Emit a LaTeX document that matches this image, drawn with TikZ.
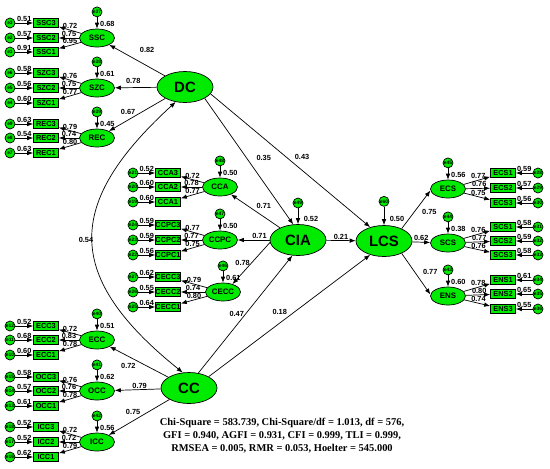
\documentclass[tikz,border=0pt]{standalone}
\usepackage{fontspec}
\setmainfont{Liberation Sans}
\newfontfamily\statsfont{Liberation Serif}
\usepackage{tikz}
\definecolor{amosgreen}{RGB}{0,235,0}
\tikzset{
     arrow/.style={-{Latex[length=3.4pt,width=2.6pt]}},
     corr/.style={{Latex[length=3.4pt,width=2.6pt]}-{Latex[length=3.4pt,width=2.6pt]}},
     latent/.style={ellipse,draw,fill=amosgreen,inner sep=0pt,minimum width=1.12cm,minimum height=0.62cm,font=\fontsize{8.5}{9}\selectfont\bfseries},
     factor/.style={ellipse,draw,fill=amosgreen,inner sep=0pt,minimum width=0.7cm,minimum height=0.36cm,font=\fontsize{4.5}{5}\selectfont\bfseries},
     item/.style={rectangle,draw,fill=amosgreen,inner sep=0pt,minimum width=0.5cm,minimum height=0.17cm,font=\fontsize{4.2}{4.5}\selectfont\bfseries},
     err/.style={circle,draw,fill=amosgreen,inner sep=0pt,minimum size=0.2cm,font=\fontsize{2.8}{3}\selectfont\bfseries},
     lbl/.style={inner sep=0.6pt,font=\fontsize{4.2}{5}\selectfont\bfseries},
     stats/.style={align=center,font=\statsfont\fontsize{5.95}{7.4}\selectfont\bfseries}
     }
\usetikzlibrary{positioning,arrows.meta}
\usetikzlibrary{shapes.geometric}

\begin{document}
\begin{tikzpicture}[x=0.02cm,y=-0.02cm,line width=0.4pt]
\useasboundingbox (0,0) rectangle (550,468);
% Place nodes
\node[latent] (DC) at (185,87) {DC};
\node[latent] (CC) at (189,388) {CC};
\node[latent] (CIA) at (298,240) {CIA};
\node[latent] (LCS) at (384,241) {LCS};
\node[factor] (SSC) at (97,38) {SSC};
\node[factor] (SZC) at (97,88) {SZC};
\node[factor] (REC) at (97,138) {REC};
\node[factor] (ECC) at (97,340) {ECC};
\node[factor] (OCC) at (97,391) {OCC};
\node[factor] (ICC) at (97,442) {ICC};
\node[factor] (CCA) at (220,187) {CCA};
\node[factor] (CCPC) at (220,240) {CCPC};
\node[factor] (CECC) at (223,292) {CECC};
\node[factor] (ECS) at (448,189) {ECS};
\node[factor] (SCS) at (448,243) {SCS};
\node[factor] (ENS) at (448,296) {ENS};
\node[err,above=9pt of CIA] (e49) {e49};
\node[err,above=10.5pt of LCS] (e60) {e60};
\node[stats] (fit) at (282,436) {Chi-Square = 583.739, Chi-Square/df = 1.013, df = 576,\\GFI = 0.940, AGFI = 0.931, CFI = 0.999, TLI = 0.999,\\RMSEA = 0.005, RMR = 0.053, Hoelter = 545.000};
% residuals of the factors
\foreach \lat/\e/\rsq in {SSC/e37/0.68,SZC/e38/0.61,REC/e39/0.45,ECC/e40/0.51,OCC/e41/0.62,ICC/e42/0.56,CCA/e48/0.50,CCPC/e47/0.50,CECC/e46/0.61,ECS/e45/0.56,SCS/e44/0.38,ENS/e43/0.60}{
    \node[err,above=6.5pt of \lat] (\e) {\e};
    \path[arrow] (\e) edge node[lbl,right=1pt,pos=0.55] {\rsq} (\lat);
}
% indicators, left side
\foreach \lat/\n/\e/\y/\lam/\err in {SSC/SSC3/e3/23/0.72/0.51,SSC/SSC2/e2/38/0.75/0.57,SSC/SSC1/e1/52/0.95/0.91,
        SZC/SZC3/e6/73/0.76/0.58,SZC/SZC2/e5/88/0.75/0.56,SZC/SZC1/e4/103/0.77/0.60,
        REC/REC3/e9/124/0.79/0.63,REC/REC2/e8/138/0.74/0.54,REC/REC1/e7/153/0.80/0.63,
        ECC/ECC3/e12/326/0.72/0.52,ECC/ECC2/e11/340/0.83/0.68,ECC/ECC1/e10/355/0.78/0.60,
        OCC/OCC3/e15/377/0.76/0.58,OCC/OCC2/e14/391/0.76/0.57,OCC/OCC1/e13/406/0.78/0.61,
        ICC/ICC3/e18/427/0.72/0.52,ICC/ICC2/e17/442/0.72/0.52,ICC/ICC1/e16/457/0.79/0.62}{
    \node[item] (\n) at (46,\y) {\n};
    \node[err] (\e) at (10,\y) {\e};
    \path[arrow] (\e) edge node[lbl,above] {\err} (\n)
                 (\lat) edge node[lbl,above] {\lam} (\n);
}
% indicators, middle
\foreach \lat/\n/\e/\y/\lam/\err in {CCA/CCA3/e21/173/0.72/0.52,CCA/CCA2/e20/187/0.78/0.60,CCA/CCA1/e19/202/0.77/0.60,
        CCPC/CCPC3/e24/225/0.77/0.59,CCPC/CCPC2/e23/240/0.77/0.59,CCPC/CCPC1/e22/255/0.75/0.56,
        CECC/CECC3/e27/277/0.79/0.62,CECC/CECC2/e26/292/0.74/0.55,CECC/CECC1/e25/307/0.80/0.64}{
    \node[item] (\n) at (168,\y) {\n};
    \node[err] (\e) at (133,\y) {\e};
    \path[arrow] (\e) edge node[lbl,above] {\err} (\n)
                 (\lat) edge node[lbl,above] {\lam} (\n);
}
% indicators, right side
\foreach \lat/\n/\e/\y/\lam/\err in {ECS/ECS1/e28/173/0.77/0.59,ECS/ECS2/e29/188/0.76/0.57,ECS/ECS3/e30/203/0.75/0.56,
        SCS/SCS1/e31/227/0.76/0.58,SCS/SCS2/e32/241/0.77/0.59,SCS/SCS3/e33/255/0.76/0.58,
        ENS/ENS1/e34/280/0.78/0.61,ENS/ENS2/e35/294/0.80/0.65,ENS/ENS3/e36/309/0.74/0.55}{
    \node[item] (\n) at (503,\y) {\n};
    \node[err] (\e) at (538,\y) {\e};
    \path[arrow] (\e) edge node[lbl,above] {\err} (\n)
                 (\lat) edge node[lbl,above,pos=0.55] {\lam} (\n);
}
% Draw edges
\path[arrow] (e49) edge node[lbl,right=2.5pt,pos=0.7] {0.52} (CIA)
             (e60) edge node[lbl,right=2.5pt,pos=0.65] {0.50} (LCS);
\path[arrow] (DC) edge node[lbl,pos=0.32,above=7pt] {0.82} (SSC)
             (DC) edge node[lbl,pos=0.56,above=1.5pt] {0.78} (SZC)
             (DC) edge node[lbl,pos=0.66,above=2pt] {0.67} (REC)
             (DC.330) edge node[lbl,pos=0.47,right=5pt] {0.35} (CIA.107)
             (DC.345) edge node[lbl,pos=0.47,right=4.5pt] {0.43} (LCS.135)
             (CIA) edge node[lbl,pos=0.33,above=4pt] {0.71} (CCA)
             (CIA) edge node[lbl,pos=0.32,above] {0.71} (CCPC)
             (CIA.185) edge node[lbl,pos=0.5,left=0pt] {0.78} (CECC.40)
             (CIA) edge node[lbl,above] {0.21} (LCS)
             (CC.58) edge node[lbl,pos=0.5,left=0pt] {0.47} (CIA.250)
             (CC.30) edge node[lbl,pos=0.44,above=4pt] {0.18} (LCS.225)
             (CC) edge node[lbl,pos=0.68,below=3pt] {0.72} (ECC)
             (CC) edge node[lbl,pos=0.46,above] {0.79} (OCC)
             (CC) edge node[lbl,pos=0.6,above=2.5pt] {0.75} (ICC)
             (LCS.35) edge node[lbl,pos=0.45,right=3.5pt] {0.75} (ECS.185)
             (LCS) edge node[lbl,above] {0.62} (SCS)
             (LCS.-35) edge node[lbl,pos=0.45,right=4pt] {0.77} (ENS.175);
\draw[corr] (DC.238) .. controls (64,204) and (64,277) .. (CC.112) node[lbl,pos=0.5,left=-1pt] {0.54};
\end{tikzpicture}
\end{document}
